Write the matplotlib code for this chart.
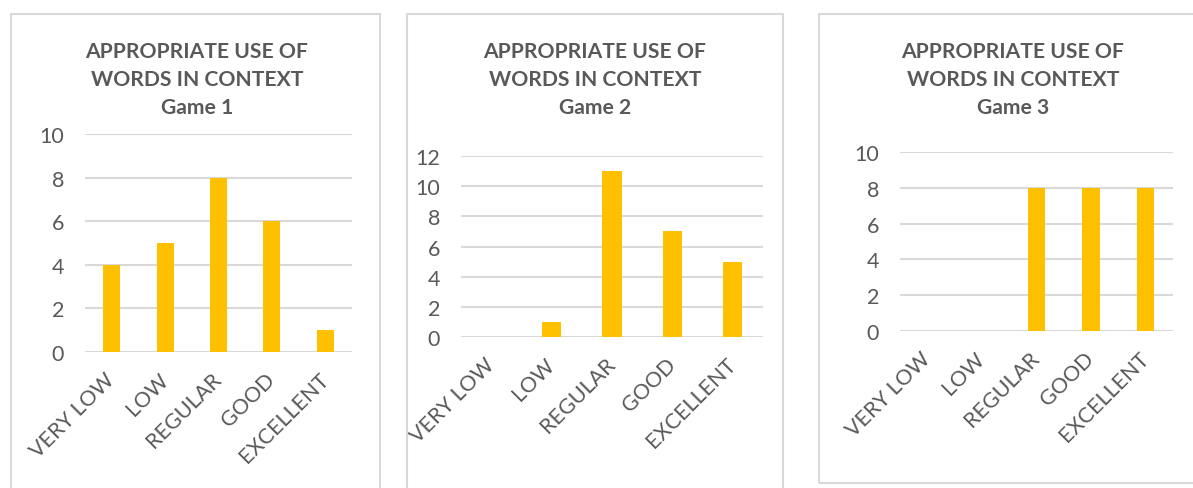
import matplotlib
matplotlib.use("AGG")
import matplotlib.pyplot as plt
from matplotlib.patches import Rectangle

plt.rcParams['font.family'] = ['Lato', 'DejaVu Sans']

categories = ["VERY LOW", "LOW", "REGULAR", "GOOD", "EXCELLENT"]
game1 = [4, 5, 8, 6, 1]
game2 = [0, 1, 11, 7, 5]
game3 = [0, 0, 8, 8, 8]
titles = ["APPROPRIATE USE OF\nWORDS IN CONTEXT\nGame 1",
          "APPROPRIATE USE OF\nWORDS IN CONTEXT\nGame 2",
          "APPROPRIATE USE OF\nWORDS IN CONTEXT\nGame 3"]
ymax = [10, 12, 10]

W, H = 1193, 489
bar_color = "#FFC000"
grid_color = "#D9D9D9"
text_color = "#595959"

fig = plt.figure(figsize=(W/100, H/100), dpi=100)

# pixel boxes: panel border (x1, y1, x2, y2), axes (x1, y_top, x2, y_bottom)
panels = [(11, 15, 380, 500), (407, 15, 783, 500), (819, 15, 1198, 484)]
axboxes = [(85, 135, 352, 353), (461, 157, 763, 338), (900, 153, 1173, 332)]
title_x = [197, 595, 1013]

def fbox(x1, y1, x2, y2):
    return [x1/W, 1 - y2/H, (x2 - x1)/W, (y2 - y1)/H]

for i, vals in enumerate([game1, game2, game3]):
    px1, py1, px2, py2 = panels[i]
    fig.patches.append(Rectangle((px1/W, 1 - py2/H), (px2 - px1)/W, (py2 - py1)/H,
                                 transform=fig.transFigure, fill=False,
                                 edgecolor=grid_color, lw=1.5))
    ax = fig.add_axes(fbox(*axboxes[i]))
    x = range(len(categories))
    ax.bar(x, vals, width=0.32, color=bar_color, zorder=3)
    ax.set_xlim(-0.5, len(categories) - 0.5)
    ax.set_ylim(0, ymax[i])
    ax.set_yticks(range(0, ymax[i] + 1, 2))
    ax.yaxis.grid(True, color=grid_color, lw=1.5, zorder=0)
    ax.set_axisbelow(True)
    for s in ax.spines.values():
        s.set_visible(False)
    ax.tick_params(axis='both', length=0, colors=text_color, labelsize=15.5)
    ax.tick_params(axis='y', pad=15)
    ax.tick_params(axis='x', pad=17)
    ax.set_xticks(list(x))
    ax.set_xticklabels(categories, rotation=45, ha='right', va='center',
                       rotation_mode='anchor')
    fig.text(title_x[i]/W, 1 - 42/H, titles[i], ha='center', va='top', fontsize=15.2,
             fontweight='bold', color=text_color, linespacing=1.5)

fig.savefig("out.png", dpi=100)
